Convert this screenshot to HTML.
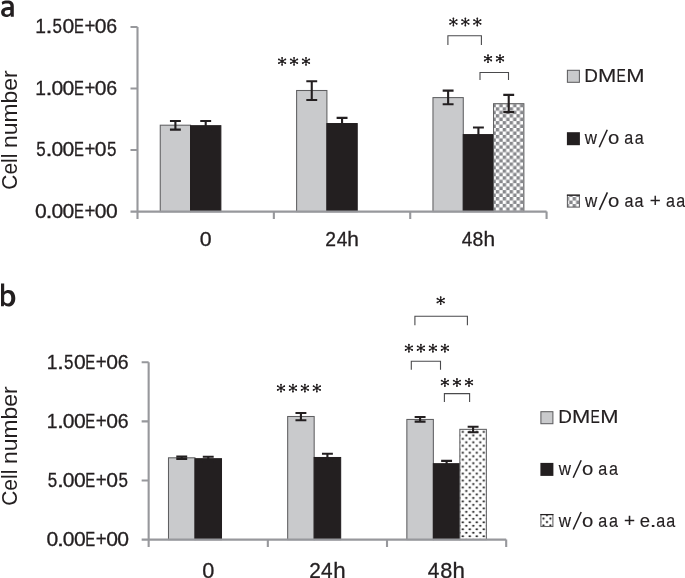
<!DOCTYPE html>
<html><head><meta charset="utf-8"><style>
html,body{margin:0;padding:0;background:#fff;}
body{width:685px;height:578px;overflow:hidden;font-family:"Liberation Sans",sans-serif;}
svg{display:block;will-change:transform;}
</style></head><body>
<svg width="685" height="578" viewBox="0 0 685 578">
<defs><pattern id="chk" patternUnits="userSpaceOnUse" x="495.8" y="169.4" width="6.9" height="6.9"><rect width="6.9" height="6.9" fill="#fff"/><rect width="3.45" height="3.45" fill="#87888c"/><rect x="3.45" y="3.45" width="3.45" height="3.45" fill="#87888c"/></pattern><pattern id="chkL" patternUnits="userSpaceOnUse" x="572.6" y="197.0" width="7.0" height="7.1"><rect width="7.0" height="7.1" fill="#fff"/><rect width="3.5" height="3.55" fill="#87888c"/><rect x="3.5" y="3.55" width="3.5" height="3.55" fill="#87888c"/></pattern><pattern id="dot" patternUnits="userSpaceOnUse" x="464.55" y="440.56" width="7" height="6.96"><rect width="7" height="6.96" fill="#fff"/><circle cx="1.75" cy="1.74" r="1.1" fill="#0a0a0a"/><circle cx="5.25" cy="5.22" r="1.1" fill="#0a0a0a"/></pattern><pattern id="dotL" patternUnits="userSpaceOnUse" x="545.25" y="513.36" width="6.9" height="6.9"><rect width="6.9" height="6.9" fill="#fff"/><circle cx="1.75" cy="1.74" r="1.1" fill="#0a0a0a"/><circle cx="5.2" cy="5.19" r="1.1" fill="#0a0a0a"/></pattern></defs><rect x="160.25" y="125.20" width="30.30" height="86.40" fill="#c9cacc" stroke="#5f5f61" stroke-width="1.05"/><rect x="190.55" y="125.70" width="30.30" height="85.90" fill="#231f20" stroke="#231f20" stroke-width="1.05"/><rect x="296.61" y="90.50" width="30.30" height="121.10" fill="#c9cacc" stroke="#5f5f61" stroke-width="1.05"/><rect x="326.91" y="123.55" width="30.30" height="88.05" fill="#231f20" stroke="#231f20" stroke-width="1.05"/><rect x="432.97" y="97.60" width="30.30" height="114.00" fill="#c9cacc" stroke="#5f5f61" stroke-width="1.05"/><rect x="463.27" y="134.60" width="30.30" height="77.00" fill="#231f20" stroke="#231f20" stroke-width="1.05"/><rect x="493.57" y="103.70" width="30.30" height="107.90" fill="url(#chk)" stroke="#5f5f61" stroke-width="1.05"/><path d="M137.5 218.9V27.0M130.5 27.00H137.5M130.5 88.53H137.5M130.5 150.07H137.5M130.5 211.60H137.5M130.5 211.6H546.58M273.86 211.6V218.9M410.22 211.6V218.9M546.58 211.6V218.9" stroke="#97989c" stroke-width="2.1" fill="none"/><path d="M175.40 121.0V129.6M169.95 121.0H180.85M169.95 129.6H180.85" stroke="#231f20" stroke-width="2.1" fill="none"/><path d="M205.70 121.05V130M200.25 121.05H211.15M200.25 130H211.15" stroke="#231f20" stroke-width="2.1" fill="none"/><path d="M311.76 81.3V99.97M306.31 81.3H317.21M306.31 99.97H317.21" stroke="#231f20" stroke-width="2.1" fill="none"/><path d="M342.06 117.9V128M336.61 117.9H347.51M336.61 128H347.51" stroke="#231f20" stroke-width="2.1" fill="none"/><path d="M448.12 90.6V104.3M442.67 90.6H453.57M442.67 104.3H453.57" stroke="#231f20" stroke-width="2.1" fill="none"/><path d="M478.42 127.45V138M472.97 127.45H483.87M472.97 138H483.87" stroke="#231f20" stroke-width="2.1" fill="none"/><path d="M508.72 94.9V112.1M503.27 94.9H514.17M503.27 112.1H514.17" stroke="#231f20" stroke-width="2.1" fill="none"/><rect x="168.49" y="457.80" width="26.50" height="81.80" fill="#c9cacc" stroke="#5f5f61" stroke-width="1.05"/><rect x="194.99" y="458.70" width="26.50" height="80.90" fill="#231f20" stroke="#231f20" stroke-width="1.05"/><rect x="287.67" y="416.50" width="26.50" height="123.10" fill="#c9cacc" stroke="#5f5f61" stroke-width="1.05"/><rect x="314.17" y="457.50" width="26.50" height="82.10" fill="#231f20" stroke="#231f20" stroke-width="1.05"/><rect x="406.85" y="419.45" width="26.50" height="120.15" fill="#c9cacc" stroke="#5f5f61" stroke-width="1.05"/><rect x="433.35" y="463.70" width="26.50" height="75.90" fill="#231f20" stroke="#231f20" stroke-width="1.05"/><rect x="459.85" y="429.35" width="26.50" height="110.25" fill="url(#dot)" stroke="#5f5f61" stroke-width="1.05"/><path d="M148.65 546.9V362.2M141.65 362.20H148.65M141.65 421.33H148.65M141.65 480.47H148.65M141.65 539.60H148.65M141.65 539.6H506.19M267.83 539.6V546.9M387.01 539.6V546.9M506.19 539.6V546.9" stroke="#97989c" stroke-width="2.1" fill="none"/><path d="M181.74 456.45V458.85M176.29 456.45H187.19M176.29 458.85H187.19" stroke="#231f20" stroke-width="2.1" fill="none"/><path d="M208.24 456.75V462M202.79 456.75H213.69M202.79 462H213.69" stroke="#231f20" stroke-width="2.1" fill="none"/><path d="M300.92 413.0V420.25M295.47 413.0H306.37M295.47 420.25H306.37" stroke="#231f20" stroke-width="2.1" fill="none"/><path d="M327.42 453.7V462M321.97 453.7H332.87M321.97 462H332.87" stroke="#231f20" stroke-width="2.1" fill="none"/><path d="M420.10 417.06V421.6M414.65 417.06H425.55M414.65 421.6H425.55" stroke="#231f20" stroke-width="2.1" fill="none"/><path d="M446.60 460.9V468M441.15 460.9H452.05M441.15 468H452.05" stroke="#231f20" stroke-width="2.1" fill="none"/><path d="M473.10 426.8V432.2M467.65 426.8H478.55M467.65 432.2H478.55" stroke="#231f20" stroke-width="2.1" fill="none"/><g fill="#231f20"><path d="M282.10 61.20L282.10 57.70M282.10 61.20L282.10 64.90M282.10 61.20L278.75 59.35M282.10 61.20L285.45 59.35M282.10 61.20L278.75 63.15M282.10 61.20L285.45 63.15" stroke="#231f20" stroke-width="1.15" stroke-linecap="round" fill="none"/><circle cx="282.10" cy="57.80" r="0.9"/><circle cx="282.10" cy="64.79" r="0.9"/><circle cx="278.85" cy="59.41" r="0.9"/><circle cx="285.35" cy="59.41" r="0.9"/><circle cx="278.85" cy="63.09" r="0.9"/><circle cx="285.35" cy="63.09" r="0.9"/><circle cx="282.10" cy="61.20" r="1.3"/></g><g fill="#231f20"><path d="M294.05 61.20L294.05 57.70M294.05 61.20L294.05 64.90M294.05 61.20L290.70 59.35M294.05 61.20L297.40 59.35M294.05 61.20L290.70 63.15M294.05 61.20L297.40 63.15" stroke="#231f20" stroke-width="1.15" stroke-linecap="round" fill="none"/><circle cx="294.05" cy="57.80" r="0.9"/><circle cx="294.05" cy="64.79" r="0.9"/><circle cx="290.80" cy="59.41" r="0.9"/><circle cx="297.30" cy="59.41" r="0.9"/><circle cx="290.80" cy="63.09" r="0.9"/><circle cx="297.30" cy="63.09" r="0.9"/><circle cx="294.05" cy="61.20" r="1.3"/></g><g fill="#231f20"><path d="M306.00 61.20L306.00 57.70M306.00 61.20L306.00 64.90M306.00 61.20L302.65 59.35M306.00 61.20L309.35 59.35M306.00 61.20L302.65 63.15M306.00 61.20L309.35 63.15" stroke="#231f20" stroke-width="1.15" stroke-linecap="round" fill="none"/><circle cx="306.00" cy="57.80" r="0.9"/><circle cx="306.00" cy="64.79" r="0.9"/><circle cx="302.75" cy="59.41" r="0.9"/><circle cx="309.25" cy="59.41" r="0.9"/><circle cx="302.75" cy="63.09" r="0.9"/><circle cx="309.25" cy="63.09" r="0.9"/><circle cx="306.00" cy="61.20" r="1.3"/></g><g fill="#231f20"><path d="M453.40 21.90L453.40 18.40M453.40 21.90L453.40 25.60M453.40 21.90L450.05 20.05M453.40 21.90L456.75 20.05M453.40 21.90L450.05 23.85M453.40 21.90L456.75 23.85" stroke="#231f20" stroke-width="1.15" stroke-linecap="round" fill="none"/><circle cx="453.40" cy="18.50" r="0.9"/><circle cx="453.40" cy="25.49" r="0.9"/><circle cx="450.15" cy="20.11" r="0.9"/><circle cx="456.65" cy="20.11" r="0.9"/><circle cx="450.15" cy="23.79" r="0.9"/><circle cx="456.65" cy="23.79" r="0.9"/><circle cx="453.40" cy="21.90" r="1.3"/></g><g fill="#231f20"><path d="M465.35 21.90L465.35 18.40M465.35 21.90L465.35 25.60M465.35 21.90L462.00 20.05M465.35 21.90L468.70 20.05M465.35 21.90L462.00 23.85M465.35 21.90L468.70 23.85" stroke="#231f20" stroke-width="1.15" stroke-linecap="round" fill="none"/><circle cx="465.35" cy="18.50" r="0.9"/><circle cx="465.35" cy="25.49" r="0.9"/><circle cx="462.10" cy="20.11" r="0.9"/><circle cx="468.60" cy="20.11" r="0.9"/><circle cx="462.10" cy="23.79" r="0.9"/><circle cx="468.60" cy="23.79" r="0.9"/><circle cx="465.35" cy="21.90" r="1.3"/></g><g fill="#231f20"><path d="M477.30 21.90L477.30 18.40M477.30 21.90L477.30 25.60M477.30 21.90L473.95 20.05M477.30 21.90L480.65 20.05M477.30 21.90L473.95 23.85M477.30 21.90L480.65 23.85" stroke="#231f20" stroke-width="1.15" stroke-linecap="round" fill="none"/><circle cx="477.30" cy="18.50" r="0.9"/><circle cx="477.30" cy="25.49" r="0.9"/><circle cx="474.05" cy="20.11" r="0.9"/><circle cx="480.55" cy="20.11" r="0.9"/><circle cx="474.05" cy="23.79" r="0.9"/><circle cx="480.55" cy="23.79" r="0.9"/><circle cx="477.30" cy="21.90" r="1.3"/></g><path d="M447.9 44.9V35.7H481.4V44.9" stroke="#4a4a4c" stroke-width="1.1" fill="none"/><g fill="#231f20"><path d="M488.00 58.60L488.00 55.10M488.00 58.60L488.00 62.30M488.00 58.60L484.65 56.75M488.00 58.60L491.35 56.75M488.00 58.60L484.65 60.55M488.00 58.60L491.35 60.55" stroke="#231f20" stroke-width="1.15" stroke-linecap="round" fill="none"/><circle cx="488.00" cy="55.20" r="0.9"/><circle cx="488.00" cy="62.19" r="0.9"/><circle cx="484.75" cy="56.81" r="0.9"/><circle cx="491.25" cy="56.81" r="0.9"/><circle cx="484.75" cy="60.49" r="0.9"/><circle cx="491.25" cy="60.49" r="0.9"/><circle cx="488.00" cy="58.60" r="1.3"/></g><g fill="#231f20"><path d="M500.00 58.60L500.00 55.10M500.00 58.60L500.00 62.30M500.00 58.60L496.65 56.75M500.00 58.60L503.35 56.75M500.00 58.60L496.65 60.55M500.00 58.60L503.35 60.55" stroke="#231f20" stroke-width="1.15" stroke-linecap="round" fill="none"/><circle cx="500.00" cy="55.20" r="0.9"/><circle cx="500.00" cy="62.19" r="0.9"/><circle cx="496.75" cy="56.81" r="0.9"/><circle cx="503.25" cy="56.81" r="0.9"/><circle cx="496.75" cy="60.49" r="0.9"/><circle cx="503.25" cy="60.49" r="0.9"/><circle cx="500.00" cy="58.60" r="1.3"/></g><path d="M480.0 80.0V72.5H508.5V80.0" stroke="#4a4a4c" stroke-width="1.1" fill="none"/><g fill="#231f20"><path d="M281.00 388.00L281.00 384.50M281.00 388.00L281.00 391.70M281.00 388.00L277.65 386.15M281.00 388.00L284.35 386.15M281.00 388.00L277.65 389.95M281.00 388.00L284.35 389.95" stroke="#231f20" stroke-width="1.15" stroke-linecap="round" fill="none"/><circle cx="281.00" cy="384.61" r="0.9"/><circle cx="281.00" cy="391.59" r="0.9"/><circle cx="277.75" cy="386.21" r="0.9"/><circle cx="284.25" cy="386.21" r="0.9"/><circle cx="277.75" cy="389.89" r="0.9"/><circle cx="284.25" cy="389.89" r="0.9"/><circle cx="281.00" cy="388.00" r="1.3"/></g><g fill="#231f20"><path d="M292.95 388.00L292.95 384.50M292.95 388.00L292.95 391.70M292.95 388.00L289.60 386.15M292.95 388.00L296.30 386.15M292.95 388.00L289.60 389.95M292.95 388.00L296.30 389.95" stroke="#231f20" stroke-width="1.15" stroke-linecap="round" fill="none"/><circle cx="292.95" cy="384.61" r="0.9"/><circle cx="292.95" cy="391.59" r="0.9"/><circle cx="289.70" cy="386.21" r="0.9"/><circle cx="296.20" cy="386.21" r="0.9"/><circle cx="289.70" cy="389.89" r="0.9"/><circle cx="296.20" cy="389.89" r="0.9"/><circle cx="292.95" cy="388.00" r="1.3"/></g><g fill="#231f20"><path d="M304.90 388.00L304.90 384.50M304.90 388.00L304.90 391.70M304.90 388.00L301.55 386.15M304.90 388.00L308.25 386.15M304.90 388.00L301.55 389.95M304.90 388.00L308.25 389.95" stroke="#231f20" stroke-width="1.15" stroke-linecap="round" fill="none"/><circle cx="304.90" cy="384.61" r="0.9"/><circle cx="304.90" cy="391.59" r="0.9"/><circle cx="301.65" cy="386.21" r="0.9"/><circle cx="308.15" cy="386.21" r="0.9"/><circle cx="301.65" cy="389.89" r="0.9"/><circle cx="308.15" cy="389.89" r="0.9"/><circle cx="304.90" cy="388.00" r="1.3"/></g><g fill="#231f20"><path d="M316.85 388.00L316.85 384.50M316.85 388.00L316.85 391.70M316.85 388.00L313.50 386.15M316.85 388.00L320.20 386.15M316.85 388.00L313.50 389.95M316.85 388.00L320.20 389.95" stroke="#231f20" stroke-width="1.15" stroke-linecap="round" fill="none"/><circle cx="316.85" cy="384.61" r="0.9"/><circle cx="316.85" cy="391.59" r="0.9"/><circle cx="313.60" cy="386.21" r="0.9"/><circle cx="320.10" cy="386.21" r="0.9"/><circle cx="313.60" cy="389.89" r="0.9"/><circle cx="320.10" cy="389.89" r="0.9"/><circle cx="316.85" cy="388.00" r="1.3"/></g><g fill="#231f20"><path d="M440.70 300.50L440.70 297.00M440.70 300.50L440.70 304.20M440.70 300.50L437.35 298.65M440.70 300.50L444.05 298.65M440.70 300.50L437.35 302.45M440.70 300.50L444.05 302.45" stroke="#231f20" stroke-width="1.15" stroke-linecap="round" fill="none"/><circle cx="440.70" cy="297.11" r="0.9"/><circle cx="440.70" cy="304.09" r="0.9"/><circle cx="437.45" cy="298.71" r="0.9"/><circle cx="443.95" cy="298.71" r="0.9"/><circle cx="437.45" cy="302.39" r="0.9"/><circle cx="443.95" cy="302.39" r="0.9"/><circle cx="440.70" cy="300.50" r="1.3"/></g><path d="M414.9 325.3V316.2H467.4V325.3" stroke="#4a4a4c" stroke-width="1.1" fill="none"/><g fill="#231f20"><path d="M408.90 348.10L408.90 344.60M408.90 348.10L408.90 351.80M408.90 348.10L405.55 346.25M408.90 348.10L412.25 346.25M408.90 348.10L405.55 350.05M408.90 348.10L412.25 350.05" stroke="#231f20" stroke-width="1.15" stroke-linecap="round" fill="none"/><circle cx="408.90" cy="344.71" r="0.9"/><circle cx="408.90" cy="351.69" r="0.9"/><circle cx="405.65" cy="346.31" r="0.9"/><circle cx="412.15" cy="346.31" r="0.9"/><circle cx="405.65" cy="349.99" r="0.9"/><circle cx="412.15" cy="349.99" r="0.9"/><circle cx="408.90" cy="348.10" r="1.3"/></g><g fill="#231f20"><path d="M420.90 348.10L420.90 344.60M420.90 348.10L420.90 351.80M420.90 348.10L417.55 346.25M420.90 348.10L424.25 346.25M420.90 348.10L417.55 350.05M420.90 348.10L424.25 350.05" stroke="#231f20" stroke-width="1.15" stroke-linecap="round" fill="none"/><circle cx="420.90" cy="344.71" r="0.9"/><circle cx="420.90" cy="351.69" r="0.9"/><circle cx="417.65" cy="346.31" r="0.9"/><circle cx="424.15" cy="346.31" r="0.9"/><circle cx="417.65" cy="349.99" r="0.9"/><circle cx="424.15" cy="349.99" r="0.9"/><circle cx="420.90" cy="348.10" r="1.3"/></g><g fill="#231f20"><path d="M432.90 348.10L432.90 344.60M432.90 348.10L432.90 351.80M432.90 348.10L429.55 346.25M432.90 348.10L436.25 346.25M432.90 348.10L429.55 350.05M432.90 348.10L436.25 350.05" stroke="#231f20" stroke-width="1.15" stroke-linecap="round" fill="none"/><circle cx="432.90" cy="344.71" r="0.9"/><circle cx="432.90" cy="351.69" r="0.9"/><circle cx="429.65" cy="346.31" r="0.9"/><circle cx="436.15" cy="346.31" r="0.9"/><circle cx="429.65" cy="349.99" r="0.9"/><circle cx="436.15" cy="349.99" r="0.9"/><circle cx="432.90" cy="348.10" r="1.3"/></g><g fill="#231f20"><path d="M444.90 348.10L444.90 344.60M444.90 348.10L444.90 351.80M444.90 348.10L441.55 346.25M444.90 348.10L448.25 346.25M444.90 348.10L441.55 350.05M444.90 348.10L448.25 350.05" stroke="#231f20" stroke-width="1.15" stroke-linecap="round" fill="none"/><circle cx="444.90" cy="344.71" r="0.9"/><circle cx="444.90" cy="351.69" r="0.9"/><circle cx="441.65" cy="346.31" r="0.9"/><circle cx="448.15" cy="346.31" r="0.9"/><circle cx="441.65" cy="349.99" r="0.9"/><circle cx="448.15" cy="349.99" r="0.9"/><circle cx="444.90" cy="348.10" r="1.3"/></g><path d="M411.3 369.8V361.3H440.5V369.8" stroke="#4a4a4c" stroke-width="1.1" fill="none"/><g fill="#231f20"><path d="M444.90 382.40L444.90 378.90M444.90 382.40L444.90 386.10M444.90 382.40L441.55 380.55M444.90 382.40L448.25 380.55M444.90 382.40L441.55 384.35M444.90 382.40L448.25 384.35" stroke="#231f20" stroke-width="1.15" stroke-linecap="round" fill="none"/><circle cx="444.90" cy="379.00" r="0.9"/><circle cx="444.90" cy="385.99" r="0.9"/><circle cx="441.65" cy="380.61" r="0.9"/><circle cx="448.15" cy="380.61" r="0.9"/><circle cx="441.65" cy="384.29" r="0.9"/><circle cx="448.15" cy="384.29" r="0.9"/><circle cx="444.90" cy="382.40" r="1.3"/></g><g fill="#231f20"><path d="M456.95 382.40L456.95 378.90M456.95 382.40L456.95 386.10M456.95 382.40L453.60 380.55M456.95 382.40L460.30 380.55M456.95 382.40L453.60 384.35M456.95 382.40L460.30 384.35" stroke="#231f20" stroke-width="1.15" stroke-linecap="round" fill="none"/><circle cx="456.95" cy="379.00" r="0.9"/><circle cx="456.95" cy="385.99" r="0.9"/><circle cx="453.70" cy="380.61" r="0.9"/><circle cx="460.20" cy="380.61" r="0.9"/><circle cx="453.70" cy="384.29" r="0.9"/><circle cx="460.20" cy="384.29" r="0.9"/><circle cx="456.95" cy="382.40" r="1.3"/></g><g fill="#231f20"><path d="M469.00 382.40L469.00 378.90M469.00 382.40L469.00 386.10M469.00 382.40L465.65 380.55M469.00 382.40L472.35 380.55M469.00 382.40L465.65 384.35M469.00 382.40L472.35 384.35" stroke="#231f20" stroke-width="1.15" stroke-linecap="round" fill="none"/><circle cx="469.00" cy="379.00" r="0.9"/><circle cx="469.00" cy="385.99" r="0.9"/><circle cx="465.75" cy="380.61" r="0.9"/><circle cx="472.25" cy="380.61" r="0.9"/><circle cx="465.75" cy="384.29" r="0.9"/><circle cx="472.25" cy="384.29" r="0.9"/><circle cx="469.00" cy="382.40" r="1.3"/></g><path d="M444.4 402.0V393.6H469.6V402.0" stroke="#4a4a4c" stroke-width="1.1" fill="none"/><text transform="translate(40.95,33.40) scale(0.992,1)" x="-5.66" y="0" font-size="19.4" fill="#231f20" stroke="#231f20" stroke-width="0.3" font-family="Liberation Sans, sans-serif" >1</text><text transform="translate(49.05,33.40) scale(1.299,1)" x="-2.69" y="0" font-size="19.4" fill="#231f20" stroke="#231f20" stroke-width="0.3" font-family="Liberation Sans, sans-serif" >.</text><text transform="translate(57.30,33.40) scale(0.875,1)" x="-5.38" y="0" font-size="19.4" fill="#231f20" stroke="#231f20" stroke-width="0.3" font-family="Liberation Sans, sans-serif" >5</text><text transform="translate(68.35,33.40) scale(1.089,1)" x="-5.39" y="0" font-size="19.4" fill="#231f20" stroke="#231f20" stroke-width="0.3" font-family="Liberation Sans, sans-serif" >0</text><text transform="translate(79.20,33.40) scale(0.766,1)" x="-6.85" y="0" font-size="19.4" fill="#231f20" stroke="#231f20" stroke-width="0.3" font-family="Liberation Sans, sans-serif" >E</text><text transform="translate(89.85,33.40) scale(0.965,1)" x="-5.66" y="0" font-size="19.4" fill="#231f20" stroke="#231f20" stroke-width="0.3" font-family="Liberation Sans, sans-serif" >+</text><text transform="translate(100.70,33.40) scale(1.089,1)" x="-5.39" y="0" font-size="19.4" fill="#231f20" stroke="#231f20" stroke-width="0.3" font-family="Liberation Sans, sans-serif" >0</text><text transform="translate(111.80,33.40) scale(1.005,1)" x="-5.46" y="0" font-size="19.4" fill="#231f20" stroke="#231f20" stroke-width="0.3" font-family="Liberation Sans, sans-serif" >6</text><text transform="translate(40.95,94.93) scale(0.992,1)" x="-5.66" y="0" font-size="19.4" fill="#231f20" stroke="#231f20" stroke-width="0.3" font-family="Liberation Sans, sans-serif" >1</text><text transform="translate(49.05,94.93) scale(1.299,1)" x="-2.69" y="0" font-size="19.4" fill="#231f20" stroke="#231f20" stroke-width="0.3" font-family="Liberation Sans, sans-serif" >.</text><text transform="translate(57.30,94.93) scale(1.089,1)" x="-5.39" y="0" font-size="19.4" fill="#231f20" stroke="#231f20" stroke-width="0.3" font-family="Liberation Sans, sans-serif" >0</text><text transform="translate(68.35,94.93) scale(1.089,1)" x="-5.39" y="0" font-size="19.4" fill="#231f20" stroke="#231f20" stroke-width="0.3" font-family="Liberation Sans, sans-serif" >0</text><text transform="translate(79.20,94.93) scale(0.766,1)" x="-6.85" y="0" font-size="19.4" fill="#231f20" stroke="#231f20" stroke-width="0.3" font-family="Liberation Sans, sans-serif" >E</text><text transform="translate(89.85,94.93) scale(0.965,1)" x="-5.66" y="0" font-size="19.4" fill="#231f20" stroke="#231f20" stroke-width="0.3" font-family="Liberation Sans, sans-serif" >+</text><text transform="translate(100.70,94.93) scale(1.089,1)" x="-5.39" y="0" font-size="19.4" fill="#231f20" stroke="#231f20" stroke-width="0.3" font-family="Liberation Sans, sans-serif" >0</text><text transform="translate(111.80,94.93) scale(1.005,1)" x="-5.46" y="0" font-size="19.4" fill="#231f20" stroke="#231f20" stroke-width="0.3" font-family="Liberation Sans, sans-serif" >6</text><text transform="translate(40.95,156.47) scale(0.875,1)" x="-5.38" y="0" font-size="19.4" fill="#231f20" stroke="#231f20" stroke-width="0.3" font-family="Liberation Sans, sans-serif" >5</text><text transform="translate(49.05,156.47) scale(1.299,1)" x="-2.69" y="0" font-size="19.4" fill="#231f20" stroke="#231f20" stroke-width="0.3" font-family="Liberation Sans, sans-serif" >.</text><text transform="translate(57.30,156.47) scale(1.089,1)" x="-5.39" y="0" font-size="19.4" fill="#231f20" stroke="#231f20" stroke-width="0.3" font-family="Liberation Sans, sans-serif" >0</text><text transform="translate(68.35,156.47) scale(1.089,1)" x="-5.39" y="0" font-size="19.4" fill="#231f20" stroke="#231f20" stroke-width="0.3" font-family="Liberation Sans, sans-serif" >0</text><text transform="translate(79.20,156.47) scale(0.766,1)" x="-6.85" y="0" font-size="19.4" fill="#231f20" stroke="#231f20" stroke-width="0.3" font-family="Liberation Sans, sans-serif" >E</text><text transform="translate(89.85,156.47) scale(0.965,1)" x="-5.66" y="0" font-size="19.4" fill="#231f20" stroke="#231f20" stroke-width="0.3" font-family="Liberation Sans, sans-serif" >+</text><text transform="translate(100.70,156.47) scale(1.089,1)" x="-5.39" y="0" font-size="19.4" fill="#231f20" stroke="#231f20" stroke-width="0.3" font-family="Liberation Sans, sans-serif" >0</text><text transform="translate(111.80,156.47) scale(0.875,1)" x="-5.38" y="0" font-size="19.4" fill="#231f20" stroke="#231f20" stroke-width="0.3" font-family="Liberation Sans, sans-serif" >5</text><text transform="translate(40.95,218.00) scale(1.089,1)" x="-5.39" y="0" font-size="19.4" fill="#231f20" stroke="#231f20" stroke-width="0.3" font-family="Liberation Sans, sans-serif" >0</text><text transform="translate(49.05,218.00) scale(1.299,1)" x="-2.69" y="0" font-size="19.4" fill="#231f20" stroke="#231f20" stroke-width="0.3" font-family="Liberation Sans, sans-serif" >.</text><text transform="translate(57.30,218.00) scale(1.089,1)" x="-5.39" y="0" font-size="19.4" fill="#231f20" stroke="#231f20" stroke-width="0.3" font-family="Liberation Sans, sans-serif" >0</text><text transform="translate(68.35,218.00) scale(1.089,1)" x="-5.39" y="0" font-size="19.4" fill="#231f20" stroke="#231f20" stroke-width="0.3" font-family="Liberation Sans, sans-serif" >0</text><text transform="translate(79.20,218.00) scale(0.766,1)" x="-6.85" y="0" font-size="19.4" fill="#231f20" stroke="#231f20" stroke-width="0.3" font-family="Liberation Sans, sans-serif" >E</text><text transform="translate(89.85,218.00) scale(0.965,1)" x="-5.66" y="0" font-size="19.4" fill="#231f20" stroke="#231f20" stroke-width="0.3" font-family="Liberation Sans, sans-serif" >+</text><text transform="translate(100.70,218.00) scale(1.089,1)" x="-5.39" y="0" font-size="19.4" fill="#231f20" stroke="#231f20" stroke-width="0.3" font-family="Liberation Sans, sans-serif" >0</text><text transform="translate(111.80,218.00) scale(1.089,1)" x="-5.39" y="0" font-size="19.4" fill="#231f20" stroke="#231f20" stroke-width="0.3" font-family="Liberation Sans, sans-serif" >0</text><text transform="translate(52.35,368.60) scale(0.992,1)" x="-5.66" y="0" font-size="19.4" fill="#231f20" stroke="#231f20" stroke-width="0.3" font-family="Liberation Sans, sans-serif" >1</text><text transform="translate(60.45,368.60) scale(1.299,1)" x="-2.69" y="0" font-size="19.4" fill="#231f20" stroke="#231f20" stroke-width="0.3" font-family="Liberation Sans, sans-serif" >.</text><text transform="translate(68.70,368.60) scale(0.875,1)" x="-5.38" y="0" font-size="19.4" fill="#231f20" stroke="#231f20" stroke-width="0.3" font-family="Liberation Sans, sans-serif" >5</text><text transform="translate(79.75,368.60) scale(1.089,1)" x="-5.39" y="0" font-size="19.4" fill="#231f20" stroke="#231f20" stroke-width="0.3" font-family="Liberation Sans, sans-serif" >0</text><text transform="translate(90.60,368.60) scale(0.766,1)" x="-6.85" y="0" font-size="19.4" fill="#231f20" stroke="#231f20" stroke-width="0.3" font-family="Liberation Sans, sans-serif" >E</text><text transform="translate(101.25,368.60) scale(0.965,1)" x="-5.66" y="0" font-size="19.4" fill="#231f20" stroke="#231f20" stroke-width="0.3" font-family="Liberation Sans, sans-serif" >+</text><text transform="translate(112.10,368.60) scale(1.089,1)" x="-5.39" y="0" font-size="19.4" fill="#231f20" stroke="#231f20" stroke-width="0.3" font-family="Liberation Sans, sans-serif" >0</text><text transform="translate(123.20,368.60) scale(1.005,1)" x="-5.46" y="0" font-size="19.4" fill="#231f20" stroke="#231f20" stroke-width="0.3" font-family="Liberation Sans, sans-serif" >6</text><text transform="translate(52.35,427.73) scale(0.992,1)" x="-5.66" y="0" font-size="19.4" fill="#231f20" stroke="#231f20" stroke-width="0.3" font-family="Liberation Sans, sans-serif" >1</text><text transform="translate(60.45,427.73) scale(1.299,1)" x="-2.69" y="0" font-size="19.4" fill="#231f20" stroke="#231f20" stroke-width="0.3" font-family="Liberation Sans, sans-serif" >.</text><text transform="translate(68.70,427.73) scale(1.089,1)" x="-5.39" y="0" font-size="19.4" fill="#231f20" stroke="#231f20" stroke-width="0.3" font-family="Liberation Sans, sans-serif" >0</text><text transform="translate(79.75,427.73) scale(1.089,1)" x="-5.39" y="0" font-size="19.4" fill="#231f20" stroke="#231f20" stroke-width="0.3" font-family="Liberation Sans, sans-serif" >0</text><text transform="translate(90.60,427.73) scale(0.766,1)" x="-6.85" y="0" font-size="19.4" fill="#231f20" stroke="#231f20" stroke-width="0.3" font-family="Liberation Sans, sans-serif" >E</text><text transform="translate(101.25,427.73) scale(0.965,1)" x="-5.66" y="0" font-size="19.4" fill="#231f20" stroke="#231f20" stroke-width="0.3" font-family="Liberation Sans, sans-serif" >+</text><text transform="translate(112.10,427.73) scale(1.089,1)" x="-5.39" y="0" font-size="19.4" fill="#231f20" stroke="#231f20" stroke-width="0.3" font-family="Liberation Sans, sans-serif" >0</text><text transform="translate(123.20,427.73) scale(1.005,1)" x="-5.46" y="0" font-size="19.4" fill="#231f20" stroke="#231f20" stroke-width="0.3" font-family="Liberation Sans, sans-serif" >6</text><text transform="translate(52.35,486.87) scale(0.875,1)" x="-5.38" y="0" font-size="19.4" fill="#231f20" stroke="#231f20" stroke-width="0.3" font-family="Liberation Sans, sans-serif" >5</text><text transform="translate(60.45,486.87) scale(1.299,1)" x="-2.69" y="0" font-size="19.4" fill="#231f20" stroke="#231f20" stroke-width="0.3" font-family="Liberation Sans, sans-serif" >.</text><text transform="translate(68.70,486.87) scale(1.089,1)" x="-5.39" y="0" font-size="19.4" fill="#231f20" stroke="#231f20" stroke-width="0.3" font-family="Liberation Sans, sans-serif" >0</text><text transform="translate(79.75,486.87) scale(1.089,1)" x="-5.39" y="0" font-size="19.4" fill="#231f20" stroke="#231f20" stroke-width="0.3" font-family="Liberation Sans, sans-serif" >0</text><text transform="translate(90.60,486.87) scale(0.766,1)" x="-6.85" y="0" font-size="19.4" fill="#231f20" stroke="#231f20" stroke-width="0.3" font-family="Liberation Sans, sans-serif" >E</text><text transform="translate(101.25,486.87) scale(0.965,1)" x="-5.66" y="0" font-size="19.4" fill="#231f20" stroke="#231f20" stroke-width="0.3" font-family="Liberation Sans, sans-serif" >+</text><text transform="translate(112.10,486.87) scale(1.089,1)" x="-5.39" y="0" font-size="19.4" fill="#231f20" stroke="#231f20" stroke-width="0.3" font-family="Liberation Sans, sans-serif" >0</text><text transform="translate(123.20,486.87) scale(0.875,1)" x="-5.38" y="0" font-size="19.4" fill="#231f20" stroke="#231f20" stroke-width="0.3" font-family="Liberation Sans, sans-serif" >5</text><text transform="translate(52.35,546.00) scale(1.089,1)" x="-5.39" y="0" font-size="19.4" fill="#231f20" stroke="#231f20" stroke-width="0.3" font-family="Liberation Sans, sans-serif" >0</text><text transform="translate(60.45,546.00) scale(1.299,1)" x="-2.69" y="0" font-size="19.4" fill="#231f20" stroke="#231f20" stroke-width="0.3" font-family="Liberation Sans, sans-serif" >.</text><text transform="translate(68.70,546.00) scale(1.089,1)" x="-5.39" y="0" font-size="19.4" fill="#231f20" stroke="#231f20" stroke-width="0.3" font-family="Liberation Sans, sans-serif" >0</text><text transform="translate(79.75,546.00) scale(1.089,1)" x="-5.39" y="0" font-size="19.4" fill="#231f20" stroke="#231f20" stroke-width="0.3" font-family="Liberation Sans, sans-serif" >0</text><text transform="translate(90.60,546.00) scale(0.766,1)" x="-6.85" y="0" font-size="19.4" fill="#231f20" stroke="#231f20" stroke-width="0.3" font-family="Liberation Sans, sans-serif" >E</text><text transform="translate(101.25,546.00) scale(0.965,1)" x="-5.66" y="0" font-size="19.4" fill="#231f20" stroke="#231f20" stroke-width="0.3" font-family="Liberation Sans, sans-serif" >+</text><text transform="translate(112.10,546.00) scale(1.089,1)" x="-5.39" y="0" font-size="19.4" fill="#231f20" stroke="#231f20" stroke-width="0.3" font-family="Liberation Sans, sans-serif" >0</text><text transform="translate(123.20,546.00) scale(1.089,1)" x="-5.39" y="0" font-size="19.4" fill="#231f20" stroke="#231f20" stroke-width="0.3" font-family="Liberation Sans, sans-serif" >0</text><text transform="translate(205.60,246.2) scale(1.094,1)" x="-5.42" y="0" font-size="19.5" fill="#231f20" stroke="#231f20" stroke-width="0.3" font-family="Liberation Sans, sans-serif" >0</text><text transform="translate(330.60,246.2) scale(0.991,1)" x="-5.42" y="0" font-size="19.5" fill="#231f20" stroke="#231f20" stroke-width="0.3" font-family="Liberation Sans, sans-serif" >2</text><text transform="translate(341.90,246.2) scale(0.977,1)" x="-5.36" y="0" font-size="19.5" fill="#231f20" stroke="#231f20" stroke-width="0.3" font-family="Liberation Sans, sans-serif" >4</text><text transform="translate(353.20,246.2) scale(1.070,1)" x="-5.47" y="0" font-size="19.5" fill="#231f20" stroke="#231f20" stroke-width="0.3" font-family="Liberation Sans, sans-serif" >h</text><text transform="translate(466.95,246.2) scale(0.977,1)" x="-5.36" y="0" font-size="19.5" fill="#231f20" stroke="#231f20" stroke-width="0.3" font-family="Liberation Sans, sans-serif" >4</text><text transform="translate(477.95,246.2) scale(0.995,1)" x="-5.42" y="0" font-size="19.5" fill="#231f20" stroke="#231f20" stroke-width="0.3" font-family="Liberation Sans, sans-serif" >8</text><text transform="translate(489.40,246.2) scale(1.070,1)" x="-5.47" y="0" font-size="19.5" fill="#231f20" stroke="#231f20" stroke-width="0.3" font-family="Liberation Sans, sans-serif" >h</text><text transform="translate(208.20,577.9) scale(1.012,1)" x="-5.98" y="0" font-size="21.5" fill="#231f20" stroke="#231f20" stroke-width="0.3" font-family="Liberation Sans, sans-serif" >0</text><text transform="translate(314.95,577.9) scale(0.970,1)" x="-5.98" y="0" font-size="21.5" fill="#231f20" stroke="#231f20" stroke-width="0.3" font-family="Liberation Sans, sans-serif" >2</text><text transform="translate(326.65,577.9) scale(0.969,1)" x="-5.91" y="0" font-size="21.5" fill="#231f20" stroke="#231f20" stroke-width="0.3" font-family="Liberation Sans, sans-serif" >4</text><text transform="translate(339.60,577.9) scale(1.036,1)" x="-6.03" y="0" font-size="21.5" fill="#231f20" stroke="#231f20" stroke-width="0.3" font-family="Liberation Sans, sans-serif" >h</text><text transform="translate(433.50,577.9) scale(0.969,1)" x="-5.91" y="0" font-size="21.5" fill="#231f20" stroke="#231f20" stroke-width="0.3" font-family="Liberation Sans, sans-serif" >4</text><text transform="translate(446.30,577.9) scale(1.011,1)" x="-5.98" y="0" font-size="21.5" fill="#231f20" stroke="#231f20" stroke-width="0.3" font-family="Liberation Sans, sans-serif" >8</text><text transform="translate(458.85,577.9) scale(1.036,1)" x="-6.03" y="0" font-size="21.5" fill="#231f20" stroke="#231f20" stroke-width="0.3" font-family="Liberation Sans, sans-serif" >h</text><text transform="translate(17.2,188.60) rotate(-90)" x="-1.06" font-size="22" fill="#231f20" font-family="Liberation Sans, sans-serif" textLength="36.06" lengthAdjust="spacingAndGlyphs">Cell</text><text transform="translate(17.2,146.40) rotate(-90)" x="-1.52" font-size="22" fill="#231f20" font-family="Liberation Sans, sans-serif" textLength="77.55" lengthAdjust="spacingAndGlyphs">number</text><text transform="translate(17.2,504.70) rotate(-90)" x="-1.06" font-size="22" fill="#231f20" font-family="Liberation Sans, sans-serif" textLength="36.06" lengthAdjust="spacingAndGlyphs">Cell</text><text transform="translate(17.2,462.50) rotate(-90)" x="-1.52" font-size="22" fill="#231f20" font-family="Liberation Sans, sans-serif" textLength="77.55" lengthAdjust="spacingAndGlyphs">number</text><path fill="#231f20" fill-rule="evenodd" d="M1.1 12.6C1.1 9 4 7.3 8 7.1L10.4 7.0L10.4 5.8C10.4 4.0 9 3.4 7.2 3.4C5.2 3.4 3.5 3.9 2.3 4.8L1.7 1.9C3.3 1.0 5.3 0.5 7.3 0.5C11.7 0.5 13.8 2.4 13.8 6.2L13.8 16.7L10.8 16.7L10.6 15.0C9.6 16.4 8.0 17.0 6.0 17.0C3.0 17.0 1.1 15.2 1.1 12.6Z M10.3 9.9L10.3 12.8C9.8 14.0 8.6 14.6 7.2 14.6C5.7 14.6 4.6 13.8 4.6 12.4C4.6 10.6 6.2 9.9 8.4 9.9Z"/><path fill="#231f20" fill-rule="evenodd" d="M1.0 283.4H4.2V291.8C5.2 290.6 6.8 290.0 8.6 290.0C12.8 290.0 15.3 293.4 15.3 298.2C15.3 303.2 12.6 306.5 8.4 306.5C6.6 306.5 5.1 305.8 4.1 304.6L3.8 306.2H1.0Z M4.2 295.0C5.0 293.7 6.2 293.0 7.6 293.0C10.1 293.0 11.3 295.2 11.3 298.2C11.3 301.4 10.0 303.5 7.6 303.5C6.2 303.5 5.0 302.8 4.2 301.6Z"/><rect x="567.4" y="70.3" width="12.0" height="12.0" fill="#c9cacc" stroke="#5f5f61" stroke-width="1.05"/><rect x="566.9" y="132.2" width="13.0" height="13.0" fill="#231f20"/><rect x="567.4" y="195.1" width="12.0" height="12.0" fill="url(#chkL)" stroke="#5f5f61" stroke-width="1.05"/><path d="M566.9 195.2H579.9" stroke="#231f20" stroke-width="1.2"/><text transform="translate(591.40,82.3) scale(0.995,1)" x="-7.19" y="0" font-size="19.0" fill="#231f20" stroke="#231f20" stroke-width="0.15" font-family="Liberation Sans, sans-serif" >D</text><text transform="translate(607.05,82.3) scale(1.157,1)" x="-7.91" y="0" font-size="19.0" fill="#231f20" stroke="#231f20" stroke-width="0.15" font-family="Liberation Sans, sans-serif" >M</text><text transform="translate(621.35,82.3) scale(0.738,1)" x="-6.71" y="0" font-size="19.0" fill="#231f20" stroke="#231f20" stroke-width="0.15" font-family="Liberation Sans, sans-serif" >E</text><text transform="translate(635.35,82.3) scale(1.157,1)" x="-7.91" y="0" font-size="19.0" fill="#231f20" stroke="#231f20" stroke-width="0.15" font-family="Liberation Sans, sans-serif" >M</text><text transform="translate(590.75,144.4) scale(0.892,1)" x="-6.87" y="0" font-size="19.0" fill="#231f20" stroke="#231f20" stroke-width="0.15" font-family="Liberation Sans, sans-serif" >w</text><path d="M599.25 147.30L607.25 129.80" stroke="#231f20" stroke-width="1.55" fill="none"/><text transform="translate(613.70,144.4) scale(1.070,1)" x="-5.28" y="0" font-size="19.0" fill="#231f20" stroke="#231f20" stroke-width="0.15" font-family="Liberation Sans, sans-serif" >o</text><text transform="translate(629.10,144.4) scale(0.850,1)" x="-5.69" y="0" font-size="19.0" fill="#231f20" stroke="#231f20" stroke-width="0.15" font-family="Liberation Sans, sans-serif" >a</text><text transform="translate(639.50,144.4) scale(0.850,1)" x="-5.69" y="0" font-size="19.0" fill="#231f20" stroke="#231f20" stroke-width="0.15" font-family="Liberation Sans, sans-serif" >a</text><text transform="translate(591.00,207.0) scale(0.892,1)" x="-6.87" y="0" font-size="19.0" fill="#231f20" stroke="#231f20" stroke-width="0.15" font-family="Liberation Sans, sans-serif" >w</text><path d="M599.40 209.90L607.40 192.40" stroke="#231f20" stroke-width="1.55" fill="none"/><text transform="translate(613.75,207.0) scale(1.070,1)" x="-5.28" y="0" font-size="19.0" fill="#231f20" stroke="#231f20" stroke-width="0.15" font-family="Liberation Sans, sans-serif" >o</text><text transform="translate(629.25,207.0) scale(0.850,1)" x="-5.69" y="0" font-size="19.0" fill="#231f20" stroke="#231f20" stroke-width="0.15" font-family="Liberation Sans, sans-serif" >a</text><text transform="translate(639.20,207.0) scale(0.850,1)" x="-5.69" y="0" font-size="19.0" fill="#231f20" stroke="#231f20" stroke-width="0.15" font-family="Liberation Sans, sans-serif" >a</text><text transform="translate(655.30,207.0) scale(0.997,1)" x="-5.54" y="0" font-size="19.0" fill="#231f20" stroke="#231f20" stroke-width="0.15" font-family="Liberation Sans, sans-serif" >+</text><text transform="translate(670.75,207.0) scale(0.850,1)" x="-5.69" y="0" font-size="19.0" fill="#231f20" stroke="#231f20" stroke-width="0.15" font-family="Liberation Sans, sans-serif" >a</text><text transform="translate(681.00,207.0) scale(0.850,1)" x="-5.69" y="0" font-size="19.0" fill="#231f20" stroke="#231f20" stroke-width="0.15" font-family="Liberation Sans, sans-serif" >a</text><rect x="540.9" y="411.7" width="12.0" height="12.0" fill="#c9cacc" stroke="#5f5f61" stroke-width="1.05"/><rect x="540.4" y="462.9" width="13.0" height="13.0" fill="#231f20"/><rect x="540.9" y="514.5" width="12.0" height="12.0" fill="url(#dotL)" stroke="#5f5f61" stroke-width="1.05"/><path d="M540.4 514.6H553.4" stroke="#231f20" stroke-width="1.2"/><text transform="translate(565.40,423.3) scale(0.995,1)" x="-7.19" y="0" font-size="19.0" fill="#231f20" stroke="#231f20" stroke-width="0.15" font-family="Liberation Sans, sans-serif" >D</text><text transform="translate(581.05,423.3) scale(1.157,1)" x="-7.91" y="0" font-size="19.0" fill="#231f20" stroke="#231f20" stroke-width="0.15" font-family="Liberation Sans, sans-serif" >M</text><text transform="translate(595.35,423.3) scale(0.738,1)" x="-6.71" y="0" font-size="19.0" fill="#231f20" stroke="#231f20" stroke-width="0.15" font-family="Liberation Sans, sans-serif" >E</text><text transform="translate(609.35,423.3) scale(1.157,1)" x="-7.91" y="0" font-size="19.0" fill="#231f20" stroke="#231f20" stroke-width="0.15" font-family="Liberation Sans, sans-serif" >M</text><text transform="translate(564.95,474.9) scale(0.892,1)" x="-6.87" y="0" font-size="19.0" fill="#231f20" stroke="#231f20" stroke-width="0.15" font-family="Liberation Sans, sans-serif" >w</text><path d="M573.20 477.80L581.20 460.30" stroke="#231f20" stroke-width="1.55" fill="none"/><text transform="translate(587.70,474.9) scale(1.070,1)" x="-5.28" y="0" font-size="19.0" fill="#231f20" stroke="#231f20" stroke-width="0.15" font-family="Liberation Sans, sans-serif" >o</text><text transform="translate(603.05,474.9) scale(0.850,1)" x="-5.69" y="0" font-size="19.0" fill="#231f20" stroke="#231f20" stroke-width="0.15" font-family="Liberation Sans, sans-serif" >a</text><text transform="translate(613.70,474.9) scale(0.850,1)" x="-5.69" y="0" font-size="19.0" fill="#231f20" stroke="#231f20" stroke-width="0.15" font-family="Liberation Sans, sans-serif" >a</text><text transform="translate(564.95,526.6) scale(0.892,1)" x="-6.87" y="0" font-size="19.0" fill="#231f20" stroke="#231f20" stroke-width="0.15" font-family="Liberation Sans, sans-serif" >w</text><path d="M573.20 529.50L581.20 512.00" stroke="#231f20" stroke-width="1.55" fill="none"/><text transform="translate(587.70,526.6) scale(1.070,1)" x="-5.28" y="0" font-size="19.0" fill="#231f20" stroke="#231f20" stroke-width="0.15" font-family="Liberation Sans, sans-serif" >o</text><text transform="translate(603.05,526.6) scale(0.850,1)" x="-5.69" y="0" font-size="19.0" fill="#231f20" stroke="#231f20" stroke-width="0.15" font-family="Liberation Sans, sans-serif" >a</text><text transform="translate(613.70,526.6) scale(0.850,1)" x="-5.69" y="0" font-size="19.0" fill="#231f20" stroke="#231f20" stroke-width="0.15" font-family="Liberation Sans, sans-serif" >a</text><text transform="translate(629.40,526.6) scale(0.997,1)" x="-5.54" y="0" font-size="19.0" fill="#231f20" stroke="#231f20" stroke-width="0.15" font-family="Liberation Sans, sans-serif" >+</text><text transform="translate(644.95,526.6) scale(0.976,1)" x="-5.26" y="0" font-size="19.0" fill="#231f20" stroke="#231f20" stroke-width="0.15" font-family="Liberation Sans, sans-serif" >e</text><text transform="translate(653.05,526.6) scale(1.271,1)" x="-2.64" y="0" font-size="19.0" fill="#231f20" stroke="#231f20" stroke-width="0.15" font-family="Liberation Sans, sans-serif" >.</text><text transform="translate(660.95,526.6) scale(0.850,1)" x="-5.69" y="0" font-size="19.0" fill="#231f20" stroke="#231f20" stroke-width="0.15" font-family="Liberation Sans, sans-serif" >a</text><text transform="translate(671.00,526.6) scale(0.850,1)" x="-5.69" y="0" font-size="19.0" fill="#231f20" stroke="#231f20" stroke-width="0.15" font-family="Liberation Sans, sans-serif" >a</text>
</svg>
</body></html>
